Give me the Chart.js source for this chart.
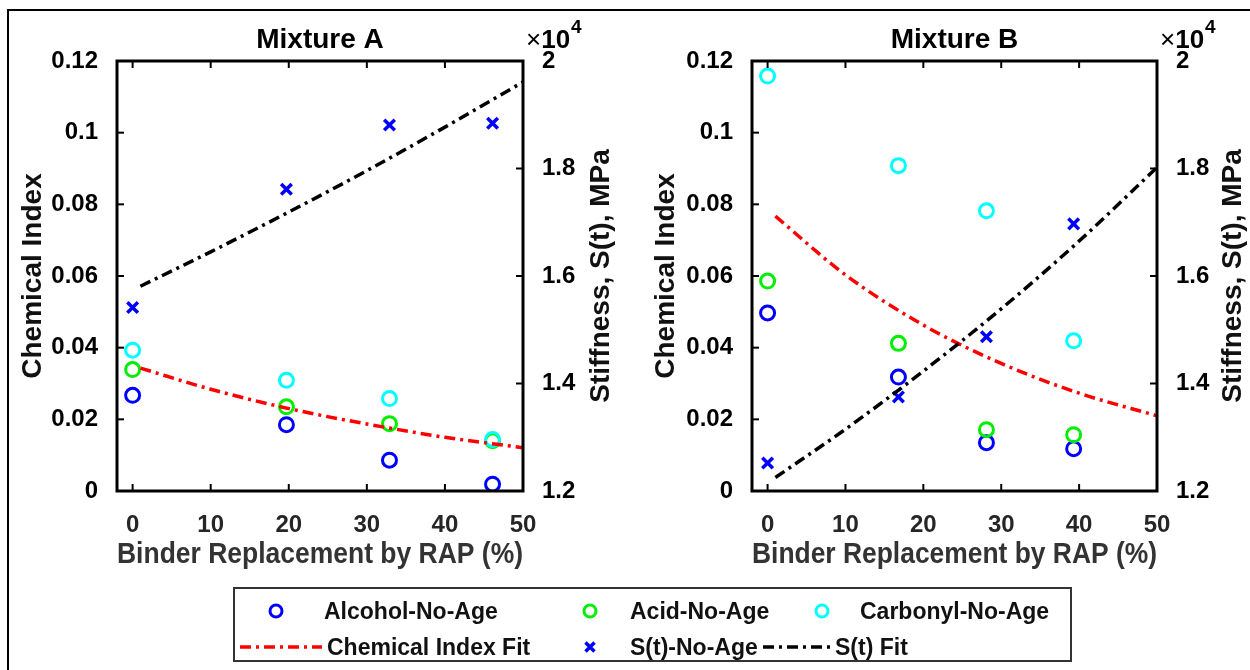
<!DOCTYPE html>
<html>
<head>
<meta charset="utf-8">
<script src="https://cdn.jsdelivr.net/npm/chart.js@4.4.1/dist/chart.umd.min.js"></script>
<style>
  html,body{margin:0;padding:0;background:#fff;}
  #wrap{position:relative;width:1250px;height:670px;overflow:hidden;font-family:"Liberation Sans",Arial,sans-serif;}
  .frameTop{position:absolute;left:7px;top:9px;width:1243px;height:0;border-top:2px solid #000;}
  .frameLeft{position:absolute;left:7px;top:9px;width:0;height:661px;border-left:2px solid #000;}
  .pane{position:absolute;top:0;width:625px;height:590px;}
  #legend{position:absolute;left:233px;top:587px;width:835px;height:71px;border:2px solid #333;box-sizing:content-box;}
  .lt{position:absolute;font-weight:bold;font-size:23px;color:#111;line-height:26px;white-space:nowrap;}
  .ls{position:absolute;}
</style>
</head>
<body>
<div id="wrap">
  <div class="frameTop"></div>
  <div class="frameLeft"></div>
  <div class="pane" style="left:0"><canvas id="cA"></canvas></div>
  <div class="pane" style="left:625px"><canvas id="cB"></canvas></div>
  <div id="legend"></div>
</div>
<script>
// ---------- data ----------
const xTicks = [0, 10, 20, 30, 40, 50];
const chemTicks = [0, 0.02, 0.04, 0.06, 0.08, 0.1, 0.12];
const chemTickLabels = ['0', '0.02', '0.04', '0.06', '0.08', '0.1', '0.12'];
const stiffTicks = [12000, 14000, 16000, 18000, 20000];
const stiffTickLabels = ['1.2', '1.4', '1.6', '1.8', '2'];

const fitX = [1, 10, 20, 30, 40, 50];

// Mixture A
const rapA = [0, 19.7, 32.9, 46.1];
const alcoholA = [0.0267, 0.0185, 0.0086, 0.0019];
const acidA = [0.0339, 0.0235, 0.0188, 0.0140];
const carbonylA = [0.0393, 0.0309, 0.0258, 0.0144];
const stiffA = [15415, 17613, 18810, 18842];
const chemFitA = [0.0343, 0.0284, 0.0230, 0.0187, 0.0150, 0.0121];
const stiffFitA = [15810, 16450, 17190, 17960, 18770, 19610];

// Mixture B
const rapB = [0, 16.8, 28.1, 39.3];
const alcoholB = [0.0497, 0.0318, 0.0135, 0.0118];
const acidB = [0.0586, 0.0412, 0.0171, 0.0157];
const carbonylB = [0.1158, 0.0908, 0.0782, 0.0419];
const stiffB = [12520, 13750, 14870, 16970];
const chemFitB = [0.0767, 0.0603, 0.0463, 0.0356, 0.0273, 0.0210];
const stiffFitB = [12250, 13150, 14230, 15390, 16650, 18020];

const seriesNames = ['Alcohol-No-Age', 'Acid-No-Age', 'Carbonyl-No-Age', 'Chemical Index Fit', 'S(t)-No-Age', 'S(t) Fit'];
const colors = {alcohol:'#0000ff', acid:'#00ee00', carbonyl:'#00ffff', chemFit:'#ff0000', stiff:'#0000ff', stiffFit:'#000000'};
const FONT = '"Liberation Sans", Arial, sans-serif';
const DASH = [11, 5, 3, 5];

const pts = (xs, ys) => xs.map((x, i) => ({x, y: ys[i]}));

const decor = {
  id: 'decor',
  afterDraw(chart, args, o) {
    const {ctx, chartArea: {left, right, top, bottom}, scales: {x, y, y2}} = chart;
    ctx.save();
    ctx.strokeStyle = '#000';
    ctx.lineWidth = 2;
    const seg = (a, b, c, d) => { ctx.beginPath(); ctx.moveTo(a, b); ctx.lineTo(c, d); ctx.stroke(); };
    xTicks.forEach(v => { const p = x.getPixelForValue(v); seg(p, bottom, p, bottom - 7); seg(p, top, p, top + 7); });
    chemTicks.forEach(v => { const p = y.getPixelForValue(v); seg(left, p, left + 7, p); });
    stiffTicks.forEach(v => { const p = y2.getPixelForValue(v); seg(right, p, right - 7, p); });
    ctx.lineWidth = 3;
    ctx.strokeRect(left, top, right - left, bottom - top);
    // title
    ctx.fillStyle = '#000';
    ctx.font = 'bold 28px ' + FONT;
    ctx.textAlign = 'center';
    ctx.textBaseline = 'middle';
    ctx.fillText(o.title, (left + right) / 2, 40);
    // exponent
    ctx.textAlign = 'left';
    ctx.font = '26px ' + FONT;
    const xs = right + 3;
    ctx.fillText('\u00d7', xs, 41);
    const w1 = ctx.measureText('\u00d7').width;
    ctx.font = 'bold 26px ' + FONT;
    ctx.fillText('10', xs + w1, 41);
    const w2 = ctx.measureText('10').width;
    ctx.font = 'bold 19px ' + FONT;
    ctx.fillText('4', xs + w1 + w2 + 1, 28);
    // right axis title, reading bottom-to-top
    ctx.font = 'bold 28px ' + FONT;
    ctx.fillStyle = '#111';
    ctx.textAlign = 'center';
    ctx.translate(o.rightTitleX, (top + bottom) / 2);
    ctx.rotate(-Math.PI / 2);
    ctx.fillText('Stiffness, S(t), MPa', 0, 0);
    ctx.restore();
  }
};

function makeChart(id, cfg) {
  const d = cfg.data;
  const datasets = [
    {label: seriesNames[0], data: pts(d.rap, d.alcohol), yAxisID: 'y', showLine: false, pointStyle: 'circle', pointRadius: 7, borderWidth: 3, borderColor: colors.alcohol, backgroundColor: 'rgba(0,0,0,0)', order: 6},
    {label: seriesNames[1], data: pts(d.rap, d.acid), yAxisID: 'y', showLine: false, pointStyle: 'circle', pointRadius: 7, borderWidth: 3, borderColor: colors.acid, backgroundColor: 'rgba(0,0,0,0)', order: 5},
    {label: seriesNames[2], data: pts(d.rap, d.carbonyl), yAxisID: 'y', showLine: false, pointStyle: 'circle', pointRadius: 7, borderWidth: 3, borderColor: colors.carbonyl, backgroundColor: 'rgba(0,0,0,0)', order: 4},
    {label: seriesNames[3], data: pts(fitX, d.chemFit), yAxisID: 'y', showLine: true, pointRadius: 0, borderWidth: 3.5, borderColor: colors.chemFit, borderDash: DASH, cubicInterpolationMode: 'monotone', fill: false, order: 3},
    {label: seriesNames[4], data: pts(d.rap, d.stiff), yAxisID: 'y2', showLine: false, pointStyle: 'crossRot', pointRadius: 7.5, borderWidth: 3.5, borderColor: colors.stiff, backgroundColor: colors.stiff, order: 2},
    {label: seriesNames[5], data: pts(fitX, d.stiffFit), yAxisID: 'y2', showLine: true, pointRadius: 0, borderWidth: 3.5, borderColor: colors.stiffFit, borderDash: DASH, cubicInterpolationMode: 'monotone', fill: false, order: 1}
  ];
  return new Chart(document.getElementById(id), {
    type: 'scatter',
    data: {datasets},
    plugins: [decor],
    options: {
      responsive: true,
      maintainAspectRatio: false,
      animation: false,
      devicePixelRatio: 1,
      layout: {padding: {top: 61, left: 0, right: 0, bottom: 0}},
      plugins: {legend: {display: false}, tooltip: {enabled: false}, decor: {title: cfg.title, rightTitleX: cfg.rightTitleX}},
      scales: {
        x: {
          type: 'linear', position: 'bottom', min: -2, max: 50,
          afterBuildTicks: s => { s.ticks = xTicks.map(v => ({value: v})); },
          afterFit: s => { s.height = 99; },
          grid: {display: false}, border: {display: false},
          ticks: {color: '#262626', font: {family: FONT, size: 24, weight: 'bold'}, padding: 12, maxRotation: 0, callback: v => String(v)},
          title: {display: true, text: 'Binder Replacement by RAP (%)', color: '#333', font: {family: FONT, size: 29.5, weight: 'bold'}, padding: {top: 0, bottom: 17}}
        },
        y: {
          type: 'linear', position: 'left', min: 0, max: 0.12,
          afterBuildTicks: s => { s.ticks = chemTicks.map(v => ({value: v})); },
          afterFit: s => { s.width = cfg.leftW; },
          grid: {display: false}, border: {display: false},
          ticks: {color: '#000', font: {family: FONT, size: 24, weight: 'bold'}, padding: 11, callback: (v, i) => chemTickLabels[i]},
          title: {display: true, text: 'Chemical Index', color: '#111', font: {family: FONT, size: 28, weight: 'bold'}, padding: {top: cfg.leftTitlePad, bottom: 0}}
        },
        y2: {
          type: 'linear', position: 'right', min: 12000, max: 20000,
          afterBuildTicks: s => { s.ticks = stiffTicks.map(v => ({value: v})); },
          afterFit: s => { s.width = cfg.rightW; },
          grid: {display: false}, border: {display: false},
          ticks: {color: '#000', font: {family: FONT, size: 24, weight: 'bold'}, padding: 11, callback: (v, i) => stiffTickLabels[i]}
        }
      }
    }
  });
}

makeChart('cA', {
  title: 'Mixture A', leftW: 117, rightW: 102, leftTitlePad: 16, rightTitleX: 601,
  data: {rap: rapA, alcohol: alcoholA, acid: acidA, carbonyl: carbonylA, chemFit: chemFitA, stiff: stiffA, stiffFit: stiffFitA}
});
makeChart('cB', {
  title: 'Mixture B', leftW: 127, rightW: 93, leftTitlePad: 24, rightTitleX: 608,
  data: {rap: rapB, alcohol: alcoholB, acid: acidB, carbonyl: carbonylB, chemFit: chemFitB, stiff: stiffB, stiffFit: stiffFitB}
});

// ---------- legend (HTML) ----------
const legend = document.getElementById('legend');
const LX = 235, LY = 589; // legend inner origin in page coords
const legendItems = [
  {kind: 'circle', color: colors.alcohol, sx: 276, tx: 324, cy: 611, text: seriesNames[0]},
  {kind: 'circle', color: colors.acid, sx: 590, tx: 630, cy: 611, text: seriesNames[1]},
  {kind: 'circle', color: colors.carbonyl, sx: 822, tx: 860, cy: 611, text: seriesNames[2]},
  {kind: 'line', color: colors.chemFit, sx: 240, ex: 322, tx: 327, cy: 647, text: seriesNames[3]},
  {kind: 'cross', color: colors.stiff, sx: 590, tx: 630, cy: 647, text: seriesNames[4]},
  {kind: 'line', color: colors.stiffFit, sx: 763, ex: 832, tx: 835, cy: 647, text: seriesNames[5]}
];
legendItems.forEach(it => {
  const ns = 'http://www.w3.org/2000/svg';
  const svg = document.createElementNS(ns, 'svg');
  svg.setAttribute('class', 'ls');
  let w = 20, h = 20;
  if (it.kind === 'line') { w = it.ex - it.sx; h = 6; }
  svg.setAttribute('width', w); svg.setAttribute('height', h);
  svg.style.left = ((it.kind === 'line' ? it.sx : it.sx - 10) - LX) + 'px';
  svg.style.top = (it.cy - h / 2 - LY) + 'px';
  if (it.kind === 'circle') {
    const c = document.createElementNS(ns, 'circle');
    c.setAttribute('cx', 10); c.setAttribute('cy', 10); c.setAttribute('r', 6);
    c.setAttribute('fill', 'none'); c.setAttribute('stroke', it.color); c.setAttribute('stroke-width', 3);
    svg.appendChild(c);
  } else if (it.kind === 'cross') {
    const p = document.createElementNS(ns, 'path');
    p.setAttribute('d', 'M5.5 5.5 L14.5 14.5 M14.5 5.5 L5.5 14.5');
    p.setAttribute('stroke', it.color); p.setAttribute('stroke-width', 3.5);
    svg.appendChild(p);
  } else {
    const l = document.createElementNS(ns, 'line');
    l.setAttribute('x1', 0); l.setAttribute('y1', 3); l.setAttribute('x2', w); l.setAttribute('y2', 3);
    l.setAttribute('stroke', it.color); l.setAttribute('stroke-width', 3.5);
    l.setAttribute('stroke-dasharray', DASH.join(' '));
    svg.appendChild(l);
  }
  legend.appendChild(svg);
  const t = document.createElement('div');
  t.className = 'lt';
  t.textContent = it.text;
  t.style.left = (it.tx - LX) + 'px';
  t.style.top = (it.cy - 13 - LY) + 'px';
  legend.appendChild(t);
});
</script>
</body>
</html>
